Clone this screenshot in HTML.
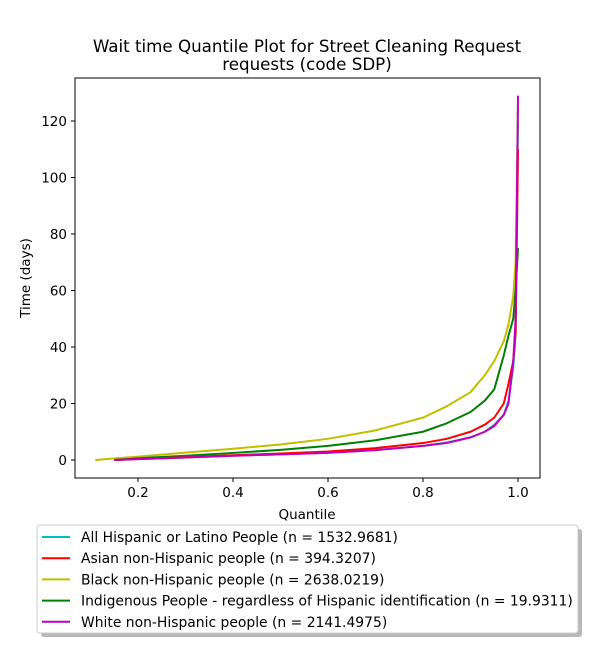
<!DOCTYPE html>
<html><head><meta charset="utf-8"><style>
body{margin:0;background:#fff;font-family:"Liberation Sans","DejaVu Sans",sans-serif;}
svg text{font-family:"DejaVu Sans","Liberation Sans",sans-serif;fill:#000}
</style></head><body>
<svg id="chart" width="600" height="650" xmlns="http://www.w3.org/2000/svg">
<rect width="600" height="650" fill="#fff"/>
<text x="307" y="52" text-anchor="middle" font-size="16.7">Wait time Quantile Plot for Street Cleaning Request</text>
<text x="307" y="70" text-anchor="middle" font-size="16.7">requests (code SDP)</text>
<g id="series"></g>
<rect x="75" y="78" width="465" height="400" fill="none" stroke="#000" stroke-width="1"/>
<g id="xticks"></g>
<g id="yticks"></g>
<text x="307" y="519" text-anchor="middle" font-size="13.5">Quantile</text>
<text x="30" y="278" text-anchor="middle" font-size="13.5" transform="rotate(-90 30 278)">Time (days)</text>
<g>
<rect x="41" y="529" width="541" height="108" rx="3" fill="#888" opacity="0.6"/>
<rect x="37" y="525" width="541" height="108" rx="3" fill="#fff" stroke="#ccc"/>
<g id="legend-items"></g>
</g>
</svg>
<script>
const categories=["All Hispanic or Latino People (n = 1532.9681)","Asian non-Hispanic people (n = 394.3207)","Black non-Hispanic people (n = 2638.0219)","Indigenous People - regardless of Hispanic identification (n = 19.9311)","White non-Hispanic people (n = 2141.4975)"];
const colors=["#00bfbf","#ff0000","#bfbf00","#008000","#bf00bf"];
const quantiles=[0.15,0.2,0.3,0.4,0.5,0.6,0.7,0.8,0.85,0.9,0.93,0.95,0.97,0.98,0.99,0.995,1.0];
const hispanicValues=[0,0.3,0.9,1.5,2,2.6,3.5,5,6.2,8,10,12.5,16,21,33,45,120];
const asianValues=[0,0.4,1,1.7,2.3,3,4.2,6,7.5,10,12.5,15,20,27,35,45,110];
const blackX=[0.11,0.2,0.3,0.4,0.5,0.6,0.7,0.8,0.85,0.9,0.93,0.95,0.97,0.98,0.99,0.995,1.0];
const blackValues=[0,1.2,2.6,4,5.5,7.5,10.5,15,19,24,30,35,42,48,58,70,125];
const indigenousValues=[0,0.6,1.5,2.5,3.6,5,7,10,13,17,21,25,37,44,50,60,75];
const whiteValues=[0,0.3,0.9,1.5,2,2.5,3.5,5,6,8,10,12,16,20,35,50,129];
const xTicks=[0.2,0.4,0.6,0.8,1.0];
const yTicks=[0,20,40,60,80,100,120];
const xs=q=>43+475*q, ys=v=>460-2.825*v;
const NS="http://www.w3.org/2000/svg";
function mk(t,a,p){const e=document.createElementNS(NS,t);for(const k in a)e.setAttribute(k,a[k]);p.appendChild(e);return e;}
const xg=document.getElementById('xticks');
xTicks.forEach(t=>{const x=xs(t);
const l=mk('line',{x1:x,x2:x,y1:478,y2:482,stroke:'#000'},xg);


const tx=mk('text',{x:x,y:497,'text-anchor':'middle','font-size':'13.5'},xg);tx.textContent=t.toFixed(1);

});
const yg=document.getElementById('yticks');
yTicks.forEach(t=>{const y=ys(t);
const l=mk('line',{x1:71,x2:75,y1:y,y2:y,stroke:'#000'},yg);


const tx=mk('text',{x:67,y:y+5,'text-anchor':'end','font-size':'13.5'},yg);tx.textContent=t;

});
const sg=document.getElementById('series');
const series=[[quantiles,hispanicValues],[quantiles,asianValues],[blackX,blackValues],[quantiles,indigenousValues],[quantiles,whiteValues]];
const order=[0,2,3,1,4];
order.forEach(i=>{const [qx,v]=series[i];
const p=mk('polyline',{points:qx.map((q,j)=>xs(q)+','+ys(v[j])).join(' '),fill:'none',stroke:colors[i],'stroke-width':2,'stroke-linejoin':'round'},sg);

});
const lg=document.getElementById('legend-items');
categories.forEach((c,i)=>{const y=537+i*21.2;
const l=mk('line',{x1:42,x2:70,y1:y,y2:y,stroke:colors[i],'stroke-width':2},lg);


const t=mk('text',{x:81,y:y+5,'font-size':'13.9'},lg);t.textContent=c;

});
</script>
</body></html>
